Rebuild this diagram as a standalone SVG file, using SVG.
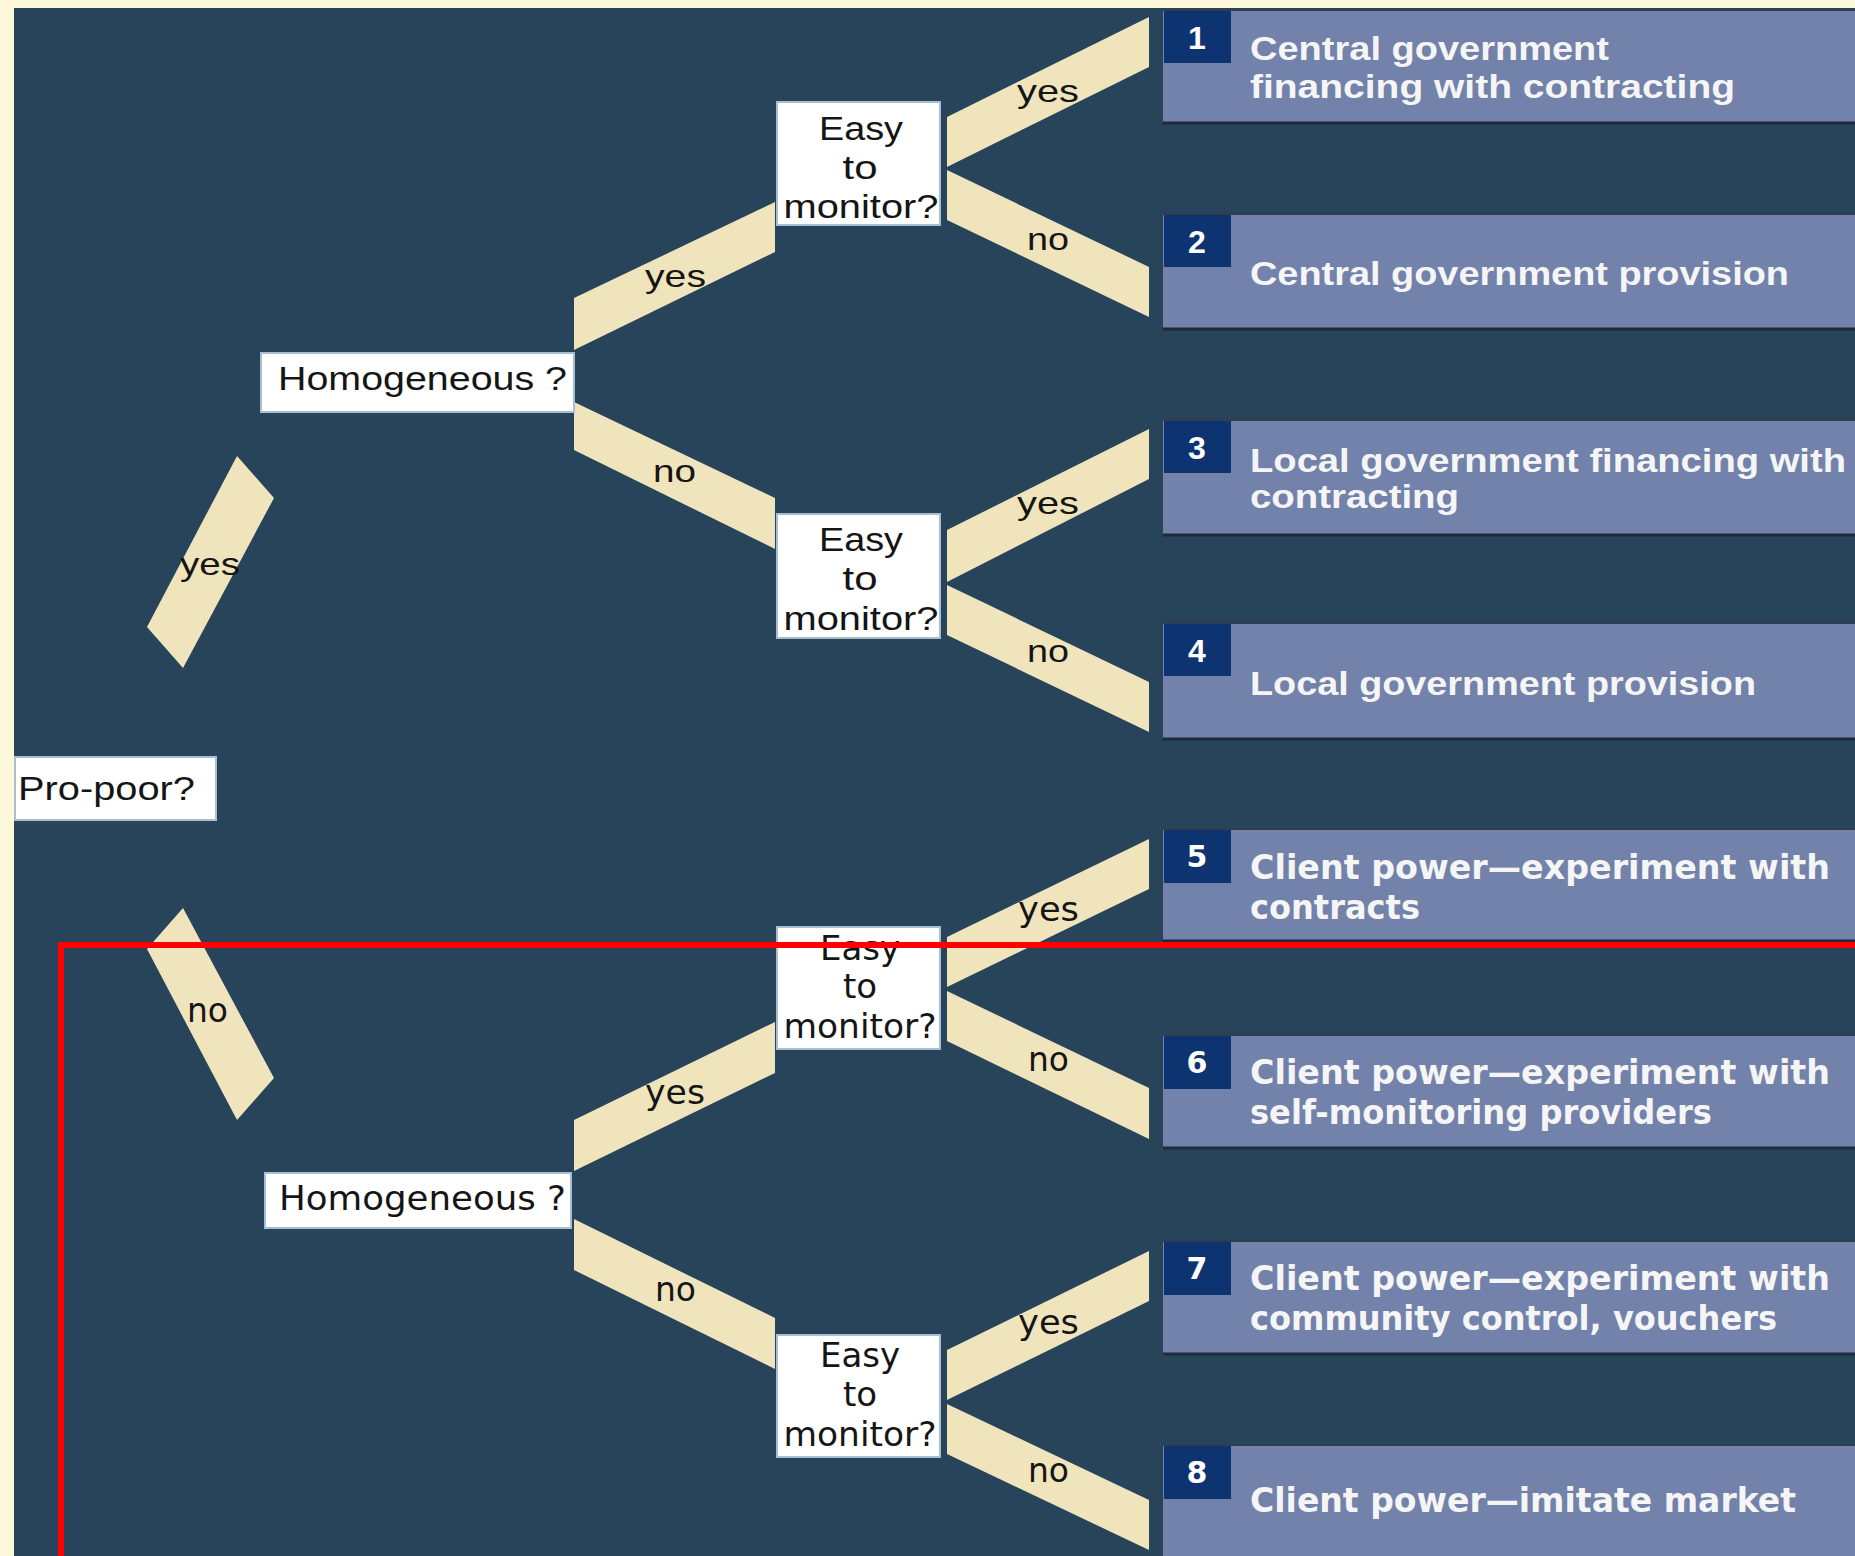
<svg xmlns="http://www.w3.org/2000/svg" width="1855" height="1556" viewBox="0 0 1855 1556">
<style>
.dec{fill:#ffffff;stroke:#a8bed2;stroke-width:2}
.band{fill:#f0e4bd}
.t1{font-family:"Liberation Sans",Arial,sans-serif;font-size:33px;fill:#151515}
.t2{font-family:"DejaVu Sans",Verdana,sans-serif;font-size:34px;fill:#151515}
.lbl1{font-family:"Liberation Sans",Arial,sans-serif;font-size:32px;fill:#151515}
.lbl2{font-family:"DejaVu Sans",Verdana,sans-serif;font-size:33px;fill:#151515}
.out{fill:#7282aa}
.outTop{stroke:#2f3d4f;stroke-width:2}
.outBot{stroke:#1e2a38;stroke-width:3}
.num{fill:#0e3371}
.o1{font-family:"Liberation Sans",Arial,sans-serif;font-weight:bold;font-size:33px;fill:#f5f5f5}
.o2{font-family:"DejaVu Sans",Verdana,sans-serif;font-weight:bold;font-size:33px;fill:#f5f5f5}
.d1{font-family:"Liberation Sans",Arial,sans-serif;font-weight:bold;font-size:32px;fill:#ffffff}
.d2{font-family:"DejaVu Sans",Verdana,sans-serif;font-weight:bold;font-size:30px;fill:#ffffff}
</style>
<rect x="0" y="0" width="1855" height="1556" fill="#fdf7dc"/>
<rect x="14" y="8" width="1841" height="1548" fill="#27445a"/>

<g id="connectors">
  <polygon class="band" points="237,456 274,498 183,668 147,627"/>
  <polygon class="band" points="183,908 147,949 237,1120 274,1078"/>
  <polygon class="band" points="574,298 775,202 775,252 574,350"/>
  <polygon class="band" points="574,402 775,498 775,549 574,450"/>
  <polygon class="band" points="947,117 1149,17 1149,67 947,167"/>
  <polygon class="band" points="947,170 1149,267 1149,317 947,220"/>
  <polygon class="band" points="947,530 1149,429 1149,479 947,582"/>
  <polygon class="band" points="947,585 1149,682 1149,732 947,635"/>
  <polygon class="band" points="574,1120 775,1022 775,1073 574,1171"/>
  <polygon class="band" points="574,1219 775,1318 775,1369 574,1270"/>
  <polygon class="band" points="947,937 1149,839 1149,889 947,987"/>
  <polygon class="band" points="947,991 1149,1088 1149,1139 947,1041"/>
  <polygon class="band" points="947,1350 1149,1251 1149,1301 947,1400"/>
  <polygon class="band" points="947,1404 1149,1500 1149,1550 947,1454"/>
  <text class="lbl1" x="180" y="575" textLength="60" lengthAdjust="spacingAndGlyphs">yes</text>
  <text class="lbl2" x="187" y="1022" textLength="41" lengthAdjust="spacingAndGlyphs">no</text>
  <text class="lbl1" x="645" y="287" textLength="61" lengthAdjust="spacingAndGlyphs">yes</text>
  <text class="lbl1" x="653" y="482" textLength="43" lengthAdjust="spacingAndGlyphs">no</text>
  <text class="lbl1" x="1017" y="102" textLength="62" lengthAdjust="spacingAndGlyphs">yes</text>
  <text class="lbl1" x="1027" y="250" textLength="42" lengthAdjust="spacingAndGlyphs">no</text>
  <text class="lbl1" x="1017" y="514" textLength="62" lengthAdjust="spacingAndGlyphs">yes</text>
  <text class="lbl1" x="1027" y="662" textLength="42" lengthAdjust="spacingAndGlyphs">no</text>
  <text class="lbl2" x="645" y="1104" textLength="60" lengthAdjust="spacingAndGlyphs">yes</text>
  <text class="lbl2" x="655" y="1301" textLength="41" lengthAdjust="spacingAndGlyphs">no</text>
  <text class="lbl2" x="1018" y="921" textLength="61" lengthAdjust="spacingAndGlyphs">yes</text>
  <text class="lbl2" x="1028" y="1071" textLength="41" lengthAdjust="spacingAndGlyphs">no</text>
  <text class="lbl2" x="1018" y="1334" textLength="61" lengthAdjust="spacingAndGlyphs">yes</text>
  <text class="lbl2" x="1028" y="1482" textLength="41" lengthAdjust="spacingAndGlyphs">no</text>
</g>

<g id="pro-poor">
  <rect class="dec" x="15" y="757" width="201" height="63"/>
  <text class="t1" x="18" y="800" font-size="37" textLength="177" lengthAdjust="spacingAndGlyphs">Pro-poor?</text>
</g>
<g id="homogeneous-1">
  <rect class="dec" x="261" y="353" width="313" height="59"/>
  <text class="t1" x="278" y="390" font-size="34" textLength="289" lengthAdjust="spacingAndGlyphs">Homogeneous ?</text>
</g>
<g id="homogeneous-2">
  <rect class="dec" x="265" y="1173" width="306" height="55"/>
  <text class="t2" x="279" y="1210" textLength="287" lengthAdjust="spacingAndGlyphs">Homogeneous ?</text>
</g>
<g id="easy-1">
  <rect class="dec" x="777" y="102" width="163" height="123"/>
  <text class="t1" x="861" y="140" text-anchor="middle" textLength="84" lengthAdjust="spacingAndGlyphs">Easy</text>
  <text class="t1" x="860" y="179" text-anchor="middle" textLength="35" lengthAdjust="spacingAndGlyphs">to</text>
  <text class="t1" x="861" y="218" text-anchor="middle" textLength="155" lengthAdjust="spacingAndGlyphs">monitor?</text>
</g>
<g id="easy-2">
  <rect class="dec" x="777" y="514" width="163" height="124"/>
  <text class="t1" x="861" y="551" text-anchor="middle" textLength="84" lengthAdjust="spacingAndGlyphs">Easy</text>
  <text class="t1" x="860" y="590" text-anchor="middle" textLength="35" lengthAdjust="spacingAndGlyphs">to</text>
  <text class="t1" x="861" y="630" text-anchor="middle" textLength="155" lengthAdjust="spacingAndGlyphs">monitor?</text>
</g>
<g id="easy-3">
  <rect class="dec" x="777" y="927" width="163" height="122"/>
  <text class="t2" x="860" y="960" text-anchor="middle">Easy</text>
  <text class="t2" x="860" y="998" text-anchor="middle">to</text>
  <text class="t2" x="860" y="1038" text-anchor="middle" textLength="153" lengthAdjust="spacingAndGlyphs">monitor?</text>
</g>
<g id="easy-4">
  <rect class="dec" x="777" y="1335" width="163" height="122"/>
  <text class="t2" x="860" y="1367" text-anchor="middle">Easy</text>
  <text class="t2" x="860" y="1406" text-anchor="middle">to</text>
  <text class="t2" x="860" y="1446" text-anchor="middle" textLength="153" lengthAdjust="spacingAndGlyphs">monitor?</text>
</g>

<g id="outcome-1">
  <rect class="out" x="1163" y="10" width="700" height="114"/>
  <line class="outTop" x1="1163" y1="10" x2="1855" y2="10"/>
  <line class="outBot" x1="1163" y1="123" x2="1855" y2="123"/>
  <rect class="num" x="1164" y="11" width="67" height="52"/>
  <text class="d1" x="1197" y="49" text-anchor="middle">1</text>
  <text class="o1" x="1250" y="60" textLength="359" lengthAdjust="spacingAndGlyphs">Central government</text>
  <text class="o1" x="1250" y="98" textLength="485" lengthAdjust="spacingAndGlyphs">financing with contracting</text>
</g>
<g id="outcome-2">
  <rect class="out" x="1163" y="214" width="700" height="115"/>
  <line class="outTop" x1="1163" y1="214" x2="1855" y2="214"/>
  <line class="outBot" x1="1163" y1="329" x2="1855" y2="329"/>
  <rect class="num" x="1164" y="215" width="67" height="52"/>
  <text class="d1" x="1197" y="253" text-anchor="middle">2</text>
  <text class="o1" x="1250" y="285" textLength="539" lengthAdjust="spacingAndGlyphs">Central government provision</text>
</g>
<g id="outcome-3">
  <rect class="out" x="1163" y="420" width="700" height="115"/>
  <line class="outTop" x1="1163" y1="420" x2="1855" y2="420"/>
  <line class="outBot" x1="1163" y1="535" x2="1855" y2="535"/>
  <rect class="num" x="1164" y="421" width="67" height="52"/>
  <text class="d1" x="1197" y="459" text-anchor="middle">3</text>
  <text class="o1" x="1250" y="472" textLength="596" lengthAdjust="spacingAndGlyphs">Local government financing with</text>
  <text class="o1" x="1250" y="508" textLength="209" lengthAdjust="spacingAndGlyphs">contracting</text>
</g>
<g id="outcome-4">
  <rect class="out" x="1163" y="623" width="700" height="116"/>
  <line class="outTop" x1="1163" y1="623" x2="1855" y2="623"/>
  <line class="outBot" x1="1163" y1="739" x2="1855" y2="739"/>
  <rect class="num" x="1164" y="624" width="67" height="52"/>
  <text class="d1" x="1197" y="662" text-anchor="middle">4</text>
  <text class="o1" x="1250" y="695" textLength="506" lengthAdjust="spacingAndGlyphs">Local government provision</text>
</g>
<g id="outcome-5">
  <rect class="out" x="1163" y="829" width="700" height="113"/>
  <line class="outTop" x1="1163" y1="829" x2="1855" y2="829"/>
  <line class="outBot" x1="1163" y1="941" x2="1855" y2="941"/>
  <rect class="num" x="1164" y="830" width="67" height="53"/>
  <text class="d2" x="1197" y="867" text-anchor="middle">5</text>
  <text class="o2" x="1250" y="879" textLength="580" lengthAdjust="spacingAndGlyphs">Client power—experiment with</text>
  <text class="o2" x="1250" y="919" textLength="170" lengthAdjust="spacingAndGlyphs">contracts</text>
</g>
<g id="outcome-6">
  <rect class="out" x="1163" y="1035" width="700" height="113"/>
  <line class="outTop" x1="1163" y1="1035" x2="1855" y2="1035"/>
  <line class="outBot" x1="1163" y1="1148" x2="1855" y2="1148"/>
  <rect class="num" x="1164" y="1036" width="67" height="53"/>
  <text class="d2" x="1197" y="1073" text-anchor="middle">6</text>
  <text class="o2" x="1250" y="1084" textLength="580" lengthAdjust="spacingAndGlyphs">Client power—experiment with</text>
  <text class="o2" x="1250" y="1124" textLength="462" lengthAdjust="spacingAndGlyphs">self-monitoring providers</text>
</g>
<g id="outcome-7">
  <rect class="out" x="1163" y="1241" width="700" height="113"/>
  <line class="outTop" x1="1163" y1="1241" x2="1855" y2="1241"/>
  <line class="outBot" x1="1163" y1="1354" x2="1855" y2="1354"/>
  <rect class="num" x="1164" y="1242" width="67" height="53"/>
  <text class="d2" x="1197" y="1279" text-anchor="middle">7</text>
  <text class="o2" x="1250" y="1290" textLength="580" lengthAdjust="spacingAndGlyphs">Client power—experiment with</text>
  <text class="o2" x="1250" y="1330" textLength="527" lengthAdjust="spacingAndGlyphs">community control, vouchers</text>
</g>
<g id="outcome-8">
  <rect class="out" x="1163" y="1445" width="700" height="120"/>
  <line class="outTop" x1="1163" y1="1445" x2="1855" y2="1445"/>
  <rect class="num" x="1164" y="1446" width="67" height="53"/>
  <text class="d2" x="1197" y="1483" text-anchor="middle">8</text>
  <text class="o2" x="1250" y="1512" textLength="546" lengthAdjust="spacingAndGlyphs">Client power—imitate market</text>
</g>

<rect x="61" y="945" width="1900" height="700" fill="none" stroke="#ff0000" stroke-width="6"/>
</svg>
